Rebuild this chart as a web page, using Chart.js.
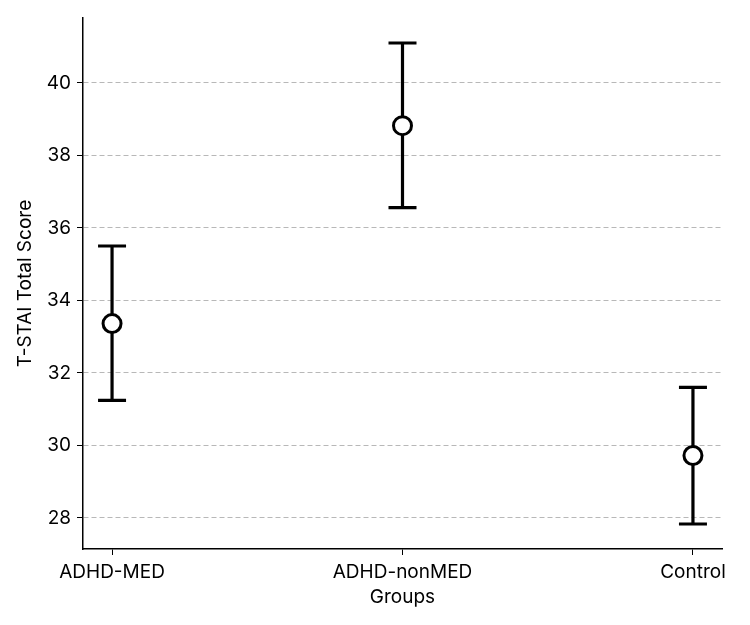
<!DOCTYPE html>
<html>
<head>
<meta charset="utf-8">
<script src="https://cdn.jsdelivr.net/npm/chart.js@4"></script>
<style>
  html, body { margin:0; padding:0; background:#fff; }
  #wrap { width:750px; height:625px; }
</style>
</head>
<body>
<div id="wrap"><canvas id="c" width="750" height="625"></canvas></div>
<script>
// data
const groups = ['ADHD-MED', 'ADHD-nonMED', 'Control'];
const means  = [33.36, 38.82, 29.72];
const lower  = [31.24, 36.56, 27.83];
const upper  = [35.50, 41.10, 31.60];
const yTicks = [28, 30, 32, 34, 36, 38, 40];

const FONT = 'Inter, "DejaVu Sans", sans-serif';

// error bars drawn under the markers
const errorBars = {
  id:'errorBars',
  beforeDatasetsDraw(chart){
    const {ctx, scales:{x, y}} = chart;
    ctx.save();
    ctx.strokeStyle = '#000'; ctx.lineWidth = 3.2; ctx.lineCap = 'butt';
    groups.forEach((g, i)=>{
      const px = x.getPixelForValue(i);
      const top = y.getPixelForValue(upper[i]), bot = y.getPixelForValue(lower[i]);
      ctx.beginPath();
      ctx.moveTo(px, top); ctx.lineTo(px, bot);
      ctx.moveTo(px-14, top); ctx.lineTo(px+14, top);
      ctx.moveTo(px-14, bot); ctx.lineTo(px+14, bot);
      ctx.stroke();
    });
    ctx.restore();
  }
};

new Chart(document.getElementById('c'), {
  type:'scatter',
  data:{
    datasets:[{
      data: groups.map((g,i)=>({x:i, y:means[i]})),
      pointRadius:9, pointHoverRadius:9, borderWidth:3,
      borderColor:'#000', backgroundColor:'#fff'
    }]
  },
  options:{
    responsive:false, animation:false,
    layout:{padding:{left:0, top:18, right:28, bottom:0}},
    plugins:{legend:{display:false}, tooltip:{enabled:false}},
    scales:{
      x:{
        type:'linear', min:-0.1, max:2.1,
        afterBuildTicks: s => { s.ticks = groups.map((g,i)=>({value:i})); },
        afterFit: s => { s.height = 76; },
        ticks:{ callback: v => groups[v], color:'#000', font:{family:FONT, size:19}, padding:6, maxRotation:0 },
        grid:{ drawOnChartArea:false, drawTicks:true, tickLength:6, tickColor:'#000', tickWidth:1 },
        border:{ color:'#000', width:1.5 },
        title:{ display:true, text:'Groups', color:'#000', font:{family:FONT, size:19}, padding:{top:0, bottom:16} }
      },
      y:{
        min:27.14, max:41.79,
        afterBuildTicks: s => { s.ticks = yTicks.map(v=>({value:v})); },
        afterFit: s => { s.width = 83; },
        ticks:{ color:'#000', font:{family:FONT, size:19}, padding:6 },
        grid:{ color:'#b8b8b8', lineWidth:1, tickLength:6, tickColor:'#000', tickWidth:1, tickBorderDash:[] },
        border:{ color:'#000', width:1.5, dash:[5,3] },
        title:{ display:true, text:'T-STAI Total Score', color:'#000', font:{family:FONT, size:19}, padding:{top:14, bottom:0} }
      }
    }
  },
  plugins:[errorBars]
});
</script>
</body>
</html>
